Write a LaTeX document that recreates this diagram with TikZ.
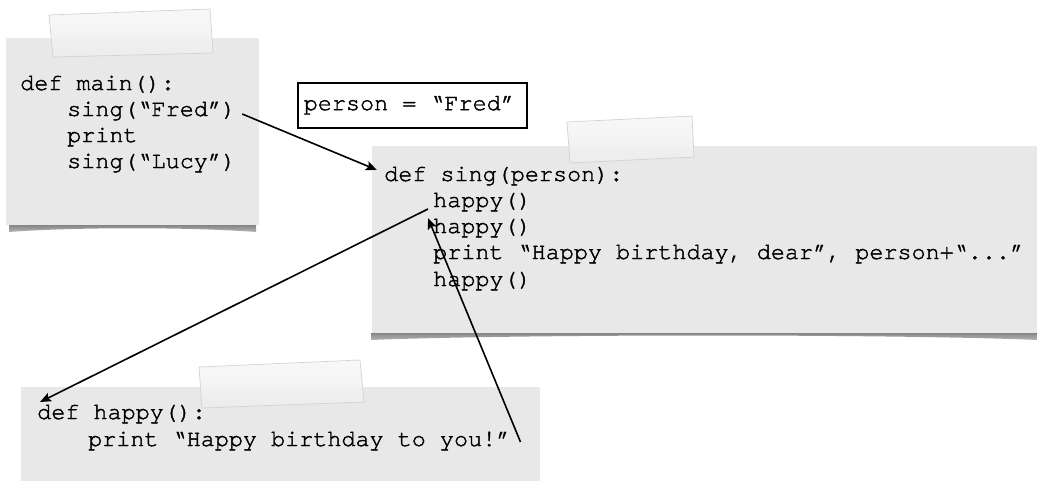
\documentclass[tikz,border=0pt]{standalone}
\usepackage{fontspec}
\setmonofont{texgyrecursor-regular.otf}[FakeBold=1.6]
\usetikzlibrary{arrows.meta,calc}

\definecolor{notegray}{HTML}{E8E8E8}
\definecolor{tapetop}{HTML}{F8F8F8}
\definecolor{tapebot}{HTML}{EDEDED}
\definecolor{tapeline}{HTML}{D2D2D2}
\definecolor{curlshadow}{HTML}{858585}

\tikzset{
  code/.style={font=\ttfamily\fontsize{23.45}{26}\selectfont, inner sep=0pt, anchor=base west},
  note/.style={fill=notegray},
  tape/.style={top color=tapetop, bottom color=tapebot, draw=tapeline, line width=0.7pt, fill opacity=0.95},
  curl/.style={top color=curlshadow, bottom color=curlshadow!60!white},
  call/.style={draw=black, line width=1.6pt, -{Stealth[length=11pt,width=9pt,inset=2pt]}},
}

\begin{document}
\begin{tikzpicture}[x=1pt,y=-1pt]
  \useasboundingbox (0,0) rectangle (1037,483);

  % paper notes
  \fill[note] (6,38) rectangle (259,225);
  \fill[note] (372,146) rectangle (1037,333);
  \fill[note] (21,387) rectangle (540,481);

  % curled-paper shadows under the notes
  \shade[curl] (9,225) -- (256,225) -- (256,232)
    .. controls (190,227) and (75,227) .. (9,232) -- cycle;
  \shade[curl] (371,333) -- (1037,333) -- (1037,340)
    .. controls (900,334) and (520,334) .. (371,340) -- cycle;

  % sticky tape strips
  \shade[tape] (49,15) -- (210,9) -- (213,53) -- (53,57) -- cycle;
  \shade[tape] (567,122) -- (692,116) -- (694,157) -- (570,163) -- cycle;
  \shade[tape] (199,367) -- (360,360) -- (364,402) -- (202,408) -- cycle;

  % main()
  \node[code] (maindef) at (20,90)  {def main():};
  \node[code] (fred)    at (67,116) {sing(“Fred”)};
  \node[code] (mprint)  at (67,142) {print};
  \node[code] (lucy)    at (67,168) {sing(“Lucy”)};

  % parameter binding
  \node[draw=black, line width=1.5pt, anchor=north west, minimum height=45pt,
        inner xsep=6pt, inner ysep=0pt,
        font=\ttfamily\fontsize{23.45}{26}\selectfont]
        (person) at (297,82) {\makebox[217pt][l]{person = “Fred”}};

  % sing(person)
  \node[code] (singdef) at (384,181) {def sing(person):};
  \node[code] (happy1)  at (433,207) {happy()};
  \node[code] (happy2)  at (433,233) {happy()};
  \node[code] (sprint)  at (433,259) {print “Happy birthday, dear”, person+“...”};
  \node[code] (happy3)  at (433,286) {happy()};

  % happy()
  \node[code] (hdef)   at (37,419) {def happy():};
  \node[code] (hprint) at (88,446) {print “Happy birthday to you!”};

  % call and return arrows
  \draw[call] ([shift={(6pt,2pt)}]fred.base east) -- ([shift={(-7pt,11pt)}]singdef.base west);
  \draw[call] ([shift={(-5pt,-2pt)}]happy1.base west) -- ([shift={(3pt,17pt)}]hdef.base west);
  \draw[call] ([shift={(10pt,4pt)}]hprint.base east) -- ([shift={(-5pt,-11pt)}]happy1.base west);
\end{tikzpicture}
\end{document}
